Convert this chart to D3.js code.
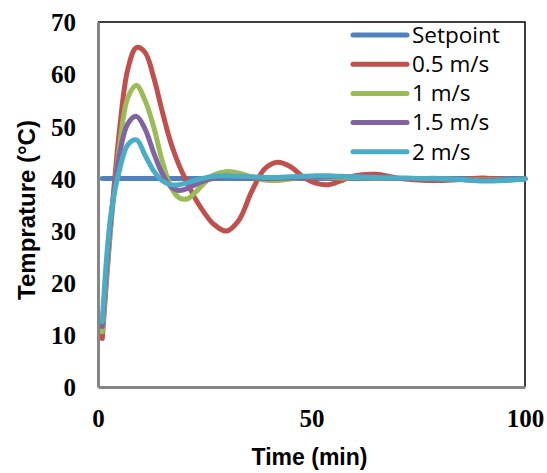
<!DOCTYPE html>
<html>
<head>
<meta charset="utf-8">
<script src="https://cdn.jsdelivr.net/npm/d3@7"></script>
<style>
  body { margin: 0; background: #fff; }
  .tick-label { font-family: "Liberation Serif", serif; font-weight: bold; font-size: 25px; fill: #000; }
  .axis-title { font-family: "Liberation Sans", sans-serif; font-weight: bold; fill: #000; }
  .legend-text { font-family: "Open Sans", sans-serif; font-size: 22.5px; fill: #000; }
</style>
</head>
<body>
<div id="chart"></div>
<script>
// time grid (min)
var times = [1, 3, 5, 7, 9, 11, 13, 15, 17, 19, 21, 23, 25, 27, 30, 33, 36, 39, 42, 45, 48, 51, 54, 57, 60, 65, 70, 75, 80, 85, 90, 95, 100];

var setpoint = times.map(function() { return 40; });
var v05 = [9.3, 31, 49, 61, 65.1, 64.2, 59.5, 53, 47, 42.5, 39, 35.8, 33.3, 31.3, 29.9, 32, 37.5, 41.8, 43.1, 42.3, 40.3, 39.1, 38.8, 39.6, 40.5, 40.8, 40.1, 39.7, 39.6, 39.8, 40.1, 39.8, 39.9];
var v1 = [10.6, 31, 46, 55.5, 57.8, 55, 50, 43.5, 38.5, 36.3, 36.1, 37.5, 39.2, 40.6, 41.3, 41, 40.3, 39.7, 39.6, 39.9, 40.2, 40.3, 40.2, 40.1, 40.2, 40.1, 40, 40, 39.9, 39.8, 39.7, 39.7, 39.9];
var v15 = [11.6, 32, 44.5, 50.5, 51.9, 49.5, 45, 41, 38.5, 37.7, 38.1, 38.9, 39.6, 40, 40.4, 40.3, 40.1, 40, 40, 40.1, 40.2, 40.3, 40.3, 40.3, 40.3, 40.2, 40, 40, 39.9, 39.8, 39.6, 39.7, 39.9];
var v2 = [12.5, 33, 41.5, 46.5, 47.4, 44.5, 41.5, 39.6, 38.8, 38.8, 39.2, 39.7, 40.1, 40.4, 40.5, 40.4, 40.3, 40.2, 40.2, 40.3, 40.4, 40.5, 40.5, 40.4, 40.3, 40.2, 40.1, 40, 40, 39.8, 39.5, 39.6, 39.9];

var seriesNames = ["Setpoint", "0.5 m/s", "1 m/s", "1.5 m/s", "2 m/s"];
var seriesValues = [setpoint, v05, v1, v15, v2];
var colors = ["#4F81BD", "#C0504D", "#9BBB59", "#8064A2", "#4BACC6"];

var yTicks = [0, 10, 20, 30, 40, 50, 60, 70];
var xTicks = [0, 50, 100];

var svgWidth = 547;
var svgHeight = 473;

var margin = { top: 22, right: 22, bottom: 86, left: 98 };
var width = svgWidth - margin.left - margin.right;
var height = svgHeight - margin.top - margin.bottom;

var svg = d3.select("#chart")
  .append("svg")
  .attr("width", svgWidth)
  .attr("height", svgHeight);

var chartGroup = svg.append("g")
  .attr("transform", `translate(${margin.left}, ${margin.top})`);

var x = d3.scaleLinear().domain([0, 100]).range([0, width]);
var y = d3.scaleLinear().domain([0, 70]).range([height, 0]);

// plot area border (top/right black)
chartGroup.append("path")
  .attr("d", `M0,0H${width}V${height}`)
  .attr("fill", "none")
  .attr("stroke", "#000")
  .attr("stroke-width", 1.5);

var line = d3.line()
  .x(function(d) { return x(d.t); })
  .y(function(d) { return y(d.v); })
  .curve(d3.curveCatmullRom.alpha(0.5));

seriesValues.forEach(function(vals, i) {
  var pts = times.map(function(t, j) { return { t: t, v: vals[j] }; });
  chartGroup.append("path")
    .datum(pts)
    .attr("d", line)
    .attr("fill", "none")
    .attr("stroke", colors[i])
    .attr("stroke-width", 5)
    .attr("stroke-linecap", "round")
    .attr("stroke-linejoin", "round");
});

// axes
var leftAxis = d3.axisLeft(y).tickValues(yTicks).tickSize(0).tickPadding(22);
var bottomAxis = d3.axisBottom(x).tickValues(xTicks).tickSize(0).tickPadding(22);

var gy = chartGroup.append("g").call(leftAxis);
var gx = chartGroup.append("g").attr("transform", `translate(0, ${height})`).call(bottomAxis);

[gx, gy].forEach(function(g) {
  g.select(".domain").attr("stroke", "#868686").attr("stroke-width", 3);
  g.selectAll("text").attr("class", "tick-label").attr("font-size", null).attr("font-family", null);
});
gy.selectAll("text").attr("dy", "0.35em");
gx.selectAll("text").attr("dy", "0.71em").attr("y", 22);

chartGroup.append("text")
  .attr("class", "axis-title")
  .attr("font-size", 23)
  .attr("text-anchor", "middle")
  .attr("x", width / 2 - 2)
  .attr("y", height + 78)
  .text("Time (min)");

chartGroup.append("text")
  .attr("class", "axis-title")
  .attr("font-size", 24)
  .attr("text-anchor", "middle")
  .attr("transform", "rotate(-90)")
  .attr("x", -(210 - margin.top))
  .attr("y", 26 - margin.left + 9)
  .text("Temprature (°C)");

// legend
var legend = chartGroup.append("g")
  .attr("transform", `translate(${353 - margin.left}, ${35 - margin.top})`);

seriesNames.forEach(function(name, i) {
  var row = legend.append("g").attr("transform", `translate(0, ${i * 29.2})`);
  row.append("line")
    .attr("x1", 0).attr("x2", 54)
    .attr("y1", 0).attr("y2", 0)
    .attr("stroke", colors[i])
    .attr("stroke-width", 5)
    .attr("stroke-linecap", "round");
  row.append("text")
    .attr("class", "legend-text")
    .attr("x", 59)
    .attr("dy", "0.35em")
    .text(name);
});
</script>
</body>
</html>
